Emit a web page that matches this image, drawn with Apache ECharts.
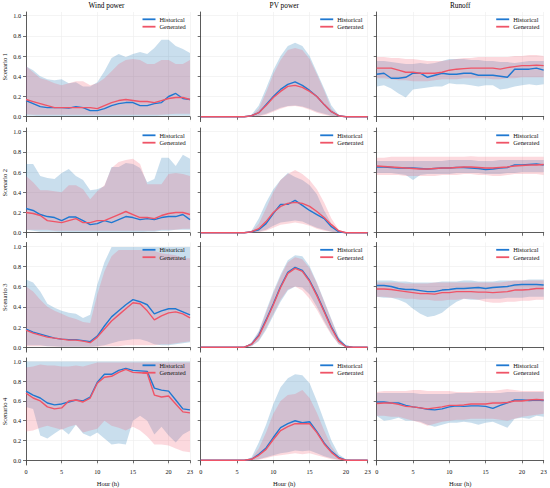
<!DOCTYPE html>
<html>
<head>
<meta charset="utf-8">
<script src="https://cdn.jsdelivr.net/npm/echarts@6.0.0/dist/echarts.min.js"></script>
<style>
  html, body { margin: 0; padding: 0; background: #fff; }
  #chart { width: 550px; height: 488px; }
</style>
</head>
<body>
<div id="chart"></div>
<script>
// ---- categories / labels ----
var hours = ['0','1','2','3','4','5','6','7','8','9','10','11','12','13','14','15','16','17','18','19','20','21','22','23'];
var hourTicks = [0, 5, 10, 15, 20, 23];
var yTicks = [0, 0.2, 0.4, 0.6, 0.8, 1.0];
var columnTitles = ['Wind power', 'PV power', 'Runoff'];
var scenarioNames = ['Scenario 1', 'Scenario 2', 'Scenario 3', 'Scenario 4'];

// ---- wind power ----
var windHist1   = [0.16,0.13,0.10,0.09,0.09,0.09,0.085,0.10,0.09,0.06,0.06,0.08,0.11,0.13,0.14,0.14,0.11,0.11,0.13,0.14,0.20,0.23,0.18,0.17];
var windGen1    = [0.17,0.15,0.13,0.11,0.09,0.09,0.09,0.09,0.09,0.09,0.08,0.11,0.14,0.16,0.17,0.16,0.15,0.15,0.14,0.16,0.18,0.19,0.19,0.17];
var windHistLo1 = [0.01,0.01,0.005,0.005,0.005,0.005,0.005,0.005,0.005,0.005,0.005,0.005,0.005,0.005,0.005,0.005,0.005,0.005,0.005,0.01,0.01,0.01,0.01,0.01];
var windHistHi1 = [0.50,0.46,0.40,0.37,0.36,0.37,0.33,0.34,0.30,0.30,0.34,0.45,0.58,0.62,0.59,0.62,0.64,0.62,0.68,0.76,0.76,0.70,0.67,0.63];
var windGenLo1  = [0.025,0.02,0.02,0.02,0.02,0.02,0.02,0.02,0.02,0.02,0.02,0.02,0.02,0.02,0.02,0.02,0.02,0.02,0.02,0.02,0.025,0.03,0.03,0.03];
var windGenHi1  = [0.50,0.44,0.38,0.36,0.33,0.31,0.33,0.35,0.35,0.31,0.33,0.38,0.45,0.52,0.56,0.57,0.56,0.52,0.52,0.56,0.56,0.52,0.52,0.56];

var windHist2   = [0.24,0.22,0.18,0.16,0.15,0.12,0.155,0.155,0.12,0.08,0.09,0.12,0.10,0.13,0.16,0.15,0.13,0.14,0.13,0.15,0.16,0.16,0.18,0.13];
var windGen2    = [0.20,0.19,0.17,0.12,0.11,0.10,0.12,0.14,0.10,0.10,0.12,0.12,0.15,0.18,0.21,0.18,0.15,0.15,0.14,0.17,0.19,0.20,0.20,0.18];
var windHistLo2 = [0.03,0.02,0.01,0.01,0.01,0.005,0.005,0.005,0.005,0.005,0.005,0.005,0.005,0.005,0.005,0.005,0.005,0.01,0.01,0.02,0.02,0.03,0.03,0.03];
var windHistHi2 = [0.68,0.68,0.56,0.54,0.53,0.59,0.63,0.56,0.52,0.42,0.43,0.46,0.65,0.65,0.69,0.68,0.64,0.50,0.53,0.74,0.74,0.66,0.77,0.73];
var windGenLo2  = [0.03,0.03,0.03,0.03,0.02,0.02,0.02,0.02,0.02,0.02,0.02,0.02,0.02,0.02,0.02,0.02,0.02,0.02,0.02,0.03,0.03,0.03,0.04,0.04];
var windGenHi2  = [0.56,0.50,0.42,0.42,0.41,0.40,0.47,0.47,0.43,0.33,0.41,0.47,0.64,0.70,0.72,0.73,0.68,0.48,0.48,0.48,0.58,0.59,0.58,0.56];

var windHist3   = [0.18,0.15,0.13,0.11,0.09,0.08,0.075,0.075,0.065,0.055,0.11,0.21,0.30,0.36,0.42,0.47,0.45,0.42,0.33,0.36,0.38,0.38,0.35,0.32];
var windGen3    = [0.17,0.14,0.12,0.10,0.09,0.08,0.07,0.07,0.06,0.045,0.10,0.18,0.26,0.32,0.38,0.44,0.43,0.36,0.27,0.31,0.34,0.35,0.33,0.29];
var windHistLo3 = [0.02,0.02,0.02,0.01,0.01,0.005,0.005,0.005,0.005,0.005,0.01,0.02,0.04,0.06,0.07,0.08,0.08,0.06,0.03,0.02,0.02,0.03,0.04,0.05];
var windHistHi3 = [0.67,0.64,0.55,0.43,0.39,0.36,0.34,0.33,0.29,0.32,0.62,0.84,0.99,0.99,0.99,0.99,0.99,0.99,0.99,0.99,0.99,0.99,0.99,0.99];
var windGenLo3  = [0.01,0.01,0.01,0.01,0.005,0.005,0.005,0.005,0.005,0.005,0.005,0.01,0.01,0.01,0.02,0.02,0.02,0.02,0.02,0.03,0.03,0.04,0.05,0.06];
var windGenHi3  = [0.60,0.55,0.47,0.40,0.36,0.33,0.30,0.28,0.25,0.24,0.52,0.75,0.90,0.96,0.96,0.96,0.96,0.95,0.95,0.93,0.92,0.91,0.88,0.88];

var windHist4   = [0.70,0.66,0.63,0.58,0.56,0.57,0.59,0.61,0.60,0.64,0.79,0.87,0.87,0.91,0.93,0.91,0.905,0.90,0.73,0.71,0.70,0.61,0.52,0.51];
var windGen4    = [0.68,0.63,0.60,0.54,0.52,0.53,0.60,0.61,0.59,0.63,0.78,0.84,0.85,0.89,0.92,0.89,0.885,0.88,0.66,0.64,0.65,0.57,0.49,0.48];
var windHistLo4 = [0.54,0.52,0.25,0.22,0.27,0.32,0.26,0.36,0.27,0.24,0.28,0.22,0.16,0.17,0.16,0.40,0.45,0.40,0.26,0.34,0.25,0.18,0.26,0.30];
var windHistHi4 = [1.0,1.0,1.0,1.0,1.0,1.0,1.0,1.0,1.0,1.0,1.0,1.0,1.0,1.0,1.0,1.0,1.0,1.0,1.0,1.0,1.0,1.0,1.0,1.0];
var windGenLo4  = [0.29,0.30,0.33,0.35,0.33,0.31,0.34,0.36,0.28,0.30,0.32,0.40,0.35,0.33,0.30,0.34,0.30,0.24,0.16,0.16,0.15,0.12,0.09,0.08];
var windGenHi4  = [0.94,0.95,0.97,0.96,0.96,0.95,0.95,0.96,0.95,0.97,0.99,0.99,0.99,0.99,0.99,0.99,0.99,0.99,0.99,0.99,0.99,0.99,0.99,0.99];

// ---- PV power ----
var pvHist1   = [0,0,0,0,0,0,0,0.01,0.04,0.12,0.20,0.27,0.32,0.345,0.31,0.26,0.20,0.12,0.05,0.01,0,0,0,0];
var pvGen1    = [0,0,0,0,0,0,0,0.01,0.04,0.11,0.19,0.25,0.30,0.31,0.29,0.25,0.20,0.12,0.05,0.01,0,0,0,0];
var pvHistLo1 = [0,0,0,0,0,0,0,0,0.01,0.03,0.06,0.09,0.105,0.11,0.10,0.08,0.05,0.03,0.01,0,0,0,0,0];
var pvHistHi1 = [0,0,0,0,0,0,0,0.02,0.11,0.28,0.46,0.60,0.70,0.73,0.70,0.60,0.44,0.28,0.11,0.02,0,0,0,0];
var pvGenLo1  = [0,0,0,0,0,0,0,0,0.005,0.02,0.05,0.08,0.10,0.105,0.095,0.07,0.04,0.02,0.005,0,0,0,0,0];
var pvGenHi1  = [0,0,0,0,0,0,0,0.01,0.08,0.24,0.42,0.56,0.66,0.68,0.66,0.57,0.42,0.26,0.08,0.01,0,0,0,0];

var pvHist2   = [0,0,0,0,0,0,0,0.01,0.03,0.09,0.19,0.28,0.28,0.32,0.27,0.22,0.18,0.14,0.06,0.01,0,0,0,0];
var pvGen2    = [0,0,0,0,0,0,0,0.01,0.04,0.11,0.20,0.26,0.29,0.30,0.29,0.26,0.21,0.15,0.08,0.02,0,0,0,0];
var pvHistLo2 = [0,0,0,0,0,0,0,0,0.01,0.03,0.07,0.10,0.11,0.12,0.11,0.08,0.05,0.03,0.01,0,0,0,0,0];
var pvHistHi2 = [0,0,0,0,0,0,0,0.02,0.14,0.30,0.43,0.52,0.59,0.55,0.52,0.47,0.38,0.22,0.09,0.02,0,0,0,0];
var pvGenLo2  = [0,0,0,0,0,0,0,0,0.005,0.02,0.05,0.08,0.09,0.10,0.09,0.07,0.04,0.02,0.01,0,0,0,0,0];
var pvGenHi2  = [0,0,0,0,0,0,0,0.01,0.09,0.24,0.40,0.52,0.58,0.62,0.58,0.52,0.43,0.30,0.14,0.03,0,0,0,0];

var pvHist3   = [0,0,0,0,0,0,0,0.03,0.12,0.27,0.43,0.60,0.74,0.79,0.76,0.66,0.52,0.36,0.20,0.07,0.01,0,0,0];
var pvGen3    = [0,0,0,0,0,0,0,0.03,0.11,0.26,0.42,0.59,0.73,0.78,0.75,0.65,0.51,0.35,0.19,0.06,0.005,0,0,0];
var pvHistLo3 = [0,0,0,0,0,0,0,0.01,0.06,0.17,0.31,0.45,0.56,0.60,0.59,0.52,0.40,0.26,0.13,0.03,0,0,0,0];
var pvHistHi3 = [0,0,0,0,0,0,0,0.05,0.16,0.36,0.55,0.72,0.86,0.91,0.90,0.80,0.64,0.46,0.28,0.10,0.02,0,0,0];
var pvGenLo3  = [0,0,0,0,0,0,0,0.01,0.07,0.19,0.33,0.47,0.57,0.60,0.56,0.48,0.37,0.24,0.12,0.03,0,0,0,0];
var pvGenHi3  = [0,0,0,0,0,0,0,0.04,0.15,0.34,0.53,0.70,0.84,0.89,0.87,0.78,0.63,0.45,0.27,0.09,0.01,0,0,0];

var pvHist4   = [0,0,0,0,0,0,0,0.01,0.06,0.125,0.23,0.33,0.37,0.40,0.38,0.39,0.29,0.175,0.09,0.03,0,0,0,0];
var pvGen4    = [0,0,0,0,0,0,0,0.01,0.05,0.11,0.21,0.30,0.34,0.37,0.37,0.37,0.28,0.165,0.08,0.02,0,0,0,0];
var pvHistLo4 = [0,0,0,0,0,0,0,0,0.01,0.03,0.05,0.07,0.08,0.10,0.09,0.10,0.07,0.04,0.02,0.005,0,0,0,0];
var pvHistHi4 = [0,0,0,0,0,0,0,0.03,0.18,0.36,0.57,0.74,0.83,0.87,0.86,0.78,0.60,0.40,0.20,0.06,0.01,0,0,0];
var pvGenLo4  = [0,0,0,0,0,0,0,0,0.005,0.02,0.04,0.05,0.06,0.07,0.06,0.07,0.05,0.03,0.01,0,0,0,0,0];
var pvGenHi4  = [0,0,0,0,0,0,0,0.02,0.12,0.28,0.47,0.60,0.66,0.67,0.71,0.63,0.48,0.30,0.14,0.04,0,0,0,0];

// ---- runoff ----
var runHist1   = [0.42,0.43,0.38,0.38,0.39,0.43,0.43,0.39,0.41,0.43,0.42,0.42,0.43,0.43,0.41,0.41,0.41,0.40,0.39,0.47,0.47,0.47,0.48,0.46];
var runGen1    = [0.48,0.48,0.48,0.46,0.44,0.44,0.43,0.43,0.43,0.44,0.46,0.47,0.475,0.48,0.48,0.48,0.48,0.47,0.485,0.495,0.505,0.505,0.51,0.505];
var runHistLo1 = [0.30,0.31,0.28,0.23,0.19,0.27,0.28,0.29,0.30,0.30,0.33,0.32,0.32,0.31,0.30,0.31,0.31,0.27,0.28,0.30,0.31,0.32,0.31,0.32];
var runHistHi1 = [0.55,0.55,0.54,0.53,0.52,0.52,0.53,0.52,0.53,0.55,0.57,0.57,0.57,0.56,0.56,0.55,0.55,0.54,0.54,0.53,0.54,0.55,0.55,0.55];
var runGenLo1  = [0.38,0.38,0.37,0.36,0.36,0.35,0.35,0.35,0.36,0.37,0.37,0.37,0.38,0.38,0.38,0.38,0.37,0.37,0.38,0.38,0.39,0.39,0.39,0.39];
var runGenHi1  = [0.59,0.59,0.58,0.58,0.57,0.57,0.56,0.55,0.55,0.55,0.56,0.57,0.58,0.58,0.59,0.59,0.59,0.59,0.59,0.60,0.60,0.61,0.61,0.60];

var runHist2   = [0.65,0.65,0.645,0.64,0.64,0.64,0.635,0.63,0.635,0.64,0.64,0.645,0.645,0.64,0.635,0.625,0.63,0.64,0.645,0.67,0.67,0.675,0.68,0.67];
var runGen2    = [0.66,0.655,0.65,0.645,0.64,0.635,0.63,0.63,0.635,0.64,0.64,0.645,0.65,0.65,0.645,0.64,0.64,0.645,0.65,0.66,0.665,0.67,0.67,0.675];
var runHistLo2 = [0.59,0.59,0.59,0.58,0.57,0.52,0.57,0.58,0.58,0.58,0.58,0.59,0.59,0.59,0.59,0.58,0.58,0.58,0.59,0.59,0.60,0.60,0.60,0.60];
var runHistHi2 = [0.71,0.71,0.71,0.71,0.71,0.71,0.71,0.71,0.71,0.71,0.72,0.72,0.72,0.72,0.71,0.71,0.71,0.72,0.72,0.72,0.72,0.72,0.72,0.72];
var runGenLo2  = [0.57,0.57,0.57,0.57,0.56,0.56,0.56,0.56,0.56,0.57,0.57,0.57,0.58,0.58,0.57,0.57,0.56,0.56,0.57,0.58,0.58,0.58,0.58,0.57];
var runGenHi2  = [0.74,0.74,0.75,0.75,0.75,0.75,0.75,0.75,0.75,0.75,0.75,0.75,0.75,0.755,0.75,0.75,0.75,0.75,0.75,0.75,0.75,0.75,0.75,0.75];

var runHist3   = [0.61,0.61,0.60,0.58,0.57,0.57,0.56,0.55,0.55,0.565,0.57,0.58,0.58,0.585,0.59,0.58,0.59,0.595,0.60,0.615,0.62,0.62,0.62,0.615];
var runGen3    = [0.575,0.575,0.57,0.56,0.55,0.54,0.53,0.53,0.525,0.54,0.54,0.55,0.55,0.55,0.545,0.545,0.54,0.545,0.55,0.565,0.565,0.57,0.58,0.58];
var runHistLo3 = [0.50,0.49,0.49,0.47,0.44,0.38,0.33,0.30,0.31,0.34,0.40,0.45,0.48,0.47,0.47,0.48,0.48,0.48,0.49,0.49,0.49,0.50,0.50,0.50];
var runHistHi3 = [0.66,0.66,0.66,0.65,0.65,0.64,0.64,0.64,0.64,0.65,0.65,0.65,0.66,0.66,0.65,0.65,0.65,0.66,0.66,0.66,0.66,0.67,0.67,0.67];
var runGenLo3  = [0.50,0.50,0.49,0.49,0.48,0.48,0.47,0.47,0.46,0.46,0.47,0.47,0.48,0.48,0.47,0.45,0.44,0.44,0.45,0.45,0.46,0.46,0.47,0.47];
var runGenHi3  = [0.64,0.64,0.64,0.64,0.63,0.63,0.63,0.63,0.64,0.64,0.64,0.64,0.64,0.64,0.64,0.64,0.64,0.64,0.65,0.66,0.66,0.66,0.66,0.66];

var runHist4   = [0.59,0.59,0.58,0.58,0.555,0.54,0.53,0.515,0.51,0.52,0.54,0.55,0.545,0.55,0.55,0.545,0.525,0.555,0.58,0.61,0.61,0.605,0.61,0.605];
var runGen4    = [0.575,0.58,0.58,0.565,0.545,0.54,0.53,0.52,0.53,0.54,0.555,0.555,0.56,0.57,0.57,0.57,0.58,0.58,0.585,0.60,0.60,0.61,0.615,0.61];
var runHistLo4 = [0.45,0.40,0.41,0.43,0.40,0.40,0.39,0.36,0.34,0.36,0.38,0.38,0.39,0.38,0.36,0.38,0.39,0.36,0.33,0.42,0.43,0.42,0.45,0.44];
var runHistHi4 = [0.68,0.68,0.68,0.68,0.68,0.68,0.67,0.67,0.67,0.67,0.67,0.68,0.68,0.68,0.68,0.68,0.68,0.68,0.69,0.69,0.69,0.69,0.69,0.69];
var runGenLo4  = [0.45,0.45,0.44,0.44,0.42,0.40,0.38,0.35,0.37,0.39,0.40,0.41,0.41,0.42,0.42,0.42,0.42,0.41,0.40,0.42,0.44,0.45,0.46,0.47];
var runGenHi4  = [0.69,0.70,0.70,0.70,0.70,0.71,0.71,0.70,0.70,0.70,0.70,0.69,0.69,0.69,0.70,0.70,0.70,0.71,0.72,0.71,0.70,0.70,0.70,0.70];

// rows = scenarios, columns = wind / pv / runoff
var panels = [
  [
    {hist: windHist1, gen: windGen1, hLo: windHistLo1, hHi: windHistHi1, gLo: windGenLo1, gHi: windGenHi1},
    {hist: pvHist1, gen: pvGen1, hLo: pvHistLo1, hHi: pvHistHi1, gLo: pvGenLo1, gHi: pvGenHi1},
    {hist: runHist1, gen: runGen1, hLo: runHistLo1, hHi: runHistHi1, gLo: runGenLo1, gHi: runGenHi1}
  ],
  [
    {hist: windHist2, gen: windGen2, hLo: windHistLo2, hHi: windHistHi2, gLo: windGenLo2, gHi: windGenHi2},
    {hist: pvHist2, gen: pvGen2, hLo: pvHistLo2, hHi: pvHistHi2, gLo: pvGenLo2, gHi: pvGenHi2},
    {hist: runHist2, gen: runGen2, hLo: runHistLo2, hHi: runHistHi2, gLo: runGenLo2, gHi: runGenHi2}
  ],
  [
    {hist: windHist3, gen: windGen3, hLo: windHistLo3, hHi: windHistHi3, gLo: windGenLo3, gHi: windGenHi3},
    {hist: pvHist3, gen: pvGen3, hLo: pvHistLo3, hHi: pvHistHi3, gLo: pvGenLo3, gHi: pvGenHi3},
    {hist: runHist3, gen: runGen3, hLo: runHistLo3, hHi: runHistHi3, gLo: runGenLo3, gHi: runGenHi3}
  ],
  [
    {hist: windHist4, gen: windGen4, hLo: windHistLo4, hHi: windHistHi4, gLo: windGenLo4, gHi: windGenHi4},
    {hist: pvHist4, gen: pvGen4, hLo: pvHistLo4, hHi: pvHistHi4, gLo: pvGenLo4, gHi: pvGenHi4},
    {hist: runHist4, gen: runGen4, hLo: runHistLo4, hHi: runHistHi4, gLo: runGenLo4, gHi: runGenHi4}
  ]
];

// ---- layout / style ----
var colLeft = [23, 200.7, 376.7], colWidth = 167;
var rowTop = [12, 128, 242.5, 358], rowHeight = 109.6;
var blue = '#1f78d1', red = '#ef5467';
var blueFill = 'rgba(31,119,180,0.24)', redFill = 'rgba(240,84,104,0.22)';
var font = 'Liberation Serif';
var textColor = '#111';
var axisColor = '#4a4a4a';
var gridColor = '#ececec';

function isHourTick(idx) { return hourTicks.indexOf(idx) >= 0; }

// lower edge (invisible) + stacked difference filled as area
function band(lo, hi, color, idx, stackId) {
  var diff = hi.map(function (v, k) { return Math.round((v - lo[k]) * 10000) / 10000; });
  var common = {
    type: 'line', xAxisIndex: idx, yAxisIndex: idx, stack: stackId,
    symbol: 'none', silent: true, lineStyle: {width: 0, opacity: 0}, z: 2
  };
  return [
    Object.assign({name: 'lo' + stackId, data: lo}, common),
    Object.assign({name: 'band' + stackId, data: diff, areaStyle: {color: color, opacity: 1}}, common)
  ];
}

var grids = [], xAxes = [], yAxes = [], series = [], legends = [], graphics = [];

panels.forEach(function (row, r) {
  row.forEach(function (p, c) {
    var i = grids.length;
    grids.push({left: colLeft[c], top: rowTop[r], width: colWidth, height: rowHeight});
    xAxes.push({
      type: 'category', gridIndex: i, data: hours, boundaryGap: false,
      axisLine: {lineStyle: {color: axisColor, width: 0.9}},
      axisTick: {show: true, interval: isHourTick, length: 3, lineStyle: {color: axisColor, width: 0.8}},
      axisLabel: {show: r === 3, interval: isHourTick, margin: 3.5, fontSize: 6.2, fontFamily: font, color: textColor},
      splitLine: {show: true, interval: isHourTick, lineStyle: {color: gridColor, width: 0.6}},
      name: r === 3 ? 'Hour (h)' : '', nameLocation: 'middle', nameGap: 15,
      nameTextStyle: {fontSize: 6.5, fontFamily: font, color: textColor}
    });
    yAxes.push({
      type: 'value', gridIndex: i, min: -0.048, max: 1.035,
      axisLine: {show: true, lineStyle: {color: axisColor, width: 0.9}},
      axisTick: {show: true, customValues: yTicks, length: 3, lineStyle: {color: axisColor, width: 0.8}},
      axisLabel: {show: c === 0, customValues: yTicks, margin: 5, fontSize: 6.2, fontFamily: font, color: textColor,
        formatter: function (v) { return v.toFixed(1); }},
      splitLine: {show: true, lineStyle: {color: gridColor, width: 0.6}},
      name: c === 0 ? scenarioNames[r] : '', nameLocation: 'middle', nameGap: 18,
      nameTextStyle: {fontSize: 6.5, fontFamily: font, color: textColor}
    });
    series = series.concat(band(p.hLo, p.hHi, blueFill, i, 'h' + i));
    series = series.concat(band(p.gLo, p.gHi, redFill, i, 'g' + i));
    series.push({
      type: 'line', name: 'Historical', xAxisIndex: i, yAxisIndex: i, data: p.hist,
      symbol: 'none', lineStyle: {color: blue, width: 1.4}, itemStyle: {color: blue}, z: 3
    });
    series.push({
      type: 'line', name: 'Generated', xAxisIndex: i, yAxisIndex: i, data: p.gen,
      symbol: 'none', lineStyle: {color: red, width: 1.4}, itemStyle: {color: red}, z: 3
    });
    legends.push({
      data: ['Historical', 'Generated'], orient: 'vertical',
      left: colLeft[c] + 119.5, top: rowTop[r] + 4.3, padding: 0, itemGap: 1.4,
      icon: 'rect', itemWidth: 13, itemHeight: 1.8, selectedMode: false,
      textStyle: {fontSize: 6.4, fontFamily: font, color: textColor, padding: [0, 0, 0, -1]}
    });
  });
});

columnTitles.forEach(function (t, c) {
  graphics.push({
    type: 'text', x: colLeft[c] + colWidth / 2, y: 5.5,
    style: {text: t, fontSize: 7.3, fontFamily: font, fill: '#000', align: 'center', verticalAlign: 'middle'}
  });
});

var chart = echarts.init(document.getElementById('chart'), null, {renderer: 'svg'});
chart.setOption({
  animation: false,
  backgroundColor: '#fff',
  grid: grids,
  xAxis: xAxes,
  yAxis: yAxes,
  legend: legends,
  graphic: graphics,
  series: series
});
</script>
</body>
</html>
